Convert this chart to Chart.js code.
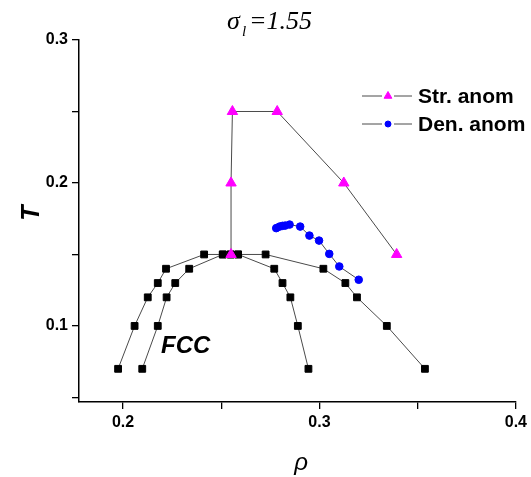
<!DOCTYPE html>
<html>
<head>
<meta charset="utf-8">
<script src="https://cdn.jsdelivr.net/npm/chart.js@4.4.0/dist/chart.umd.min.js"></script>
<style>
  html, body { margin: 0; padding: 0; background: #fff; }
  #wrap { width: 531px; height: 477px; position: relative; }
</style>
</head>
<body>
<div id="wrap"><canvas id="c" width="531" height="477"></canvas></div>
<script>
// ---- data ----
const strRho = [0.255, 0.255, 0.2557, 0.2785, 0.3124, 0.3393];
const strT   = [0.15, 0.20, 0.25, 0.25, 0.20, 0.15];

const denRho = [0.2780, 0.2797, 0.2812, 0.2826, 0.2848, 0.2902, 0.2949, 0.2998, 0.3050, 0.3101, 0.3200];
const denT   = [0.1684, 0.1695, 0.1700, 0.1702, 0.1709, 0.1695, 0.1632, 0.1597, 0.1504, 0.1416, 0.1323];

const outerRho = [0.1975, 0.2059, 0.2126, 0.2177, 0.2219, 0.2413, 0.2508, 0.2548, 0.2586, 0.2726, 0.302, 0.3132, 0.3191, 0.3343, 0.3537];
const outerT   = [0.07, 0.10, 0.12, 0.13, 0.14, 0.15, 0.15, 0.15, 0.15, 0.15, 0.14, 0.13, 0.12, 0.10, 0.07];

const innerRho = [0.2098, 0.2177, 0.2222, 0.2266, 0.2337, 0.2508, 0.2548, 0.2586, 0.277, 0.2812, 0.2852, 0.289, 0.2944];
const innerT   = [0.07, 0.10, 0.12, 0.13, 0.14, 0.15, 0.15, 0.15, 0.14, 0.13, 0.12, 0.10, 0.07];

const xTicks = [0.2, 0.25, 0.3, 0.35, 0.4];
const xLabels = ['0.2', '', '0.3', '', '0.4'];
const yTicks = [0.05, 0.1, 0.15, 0.2, 0.25, 0.3];
const yLabels = ['', '0.1', '', '0.2', '', '0.3'];

const legendNames = ['Str. anom', 'Den. anom'];
const titleParts = ['σ', 'l', '=1.55'];
const xTitle = 'ρ';
const yTitle = 'T';
const phaseLabel = 'FCC';

const pts = (xs, ys) => xs.map((x, i) => ({ x: x, y: ys[i] }));

const LINE = '#4a4a4a';
const MAG = '#ff00ff';
const BLUE = '#0000ff';

const overlay = {
  id: 'overlay',
  afterDraw(chart) {
    const ctx = chart.ctx;
    ctx.save();
    ctx.fillStyle = '#000';
    // title
    ctx.textAlign = 'left';
    ctx.textBaseline = 'alphabetic';
    ctx.font = 'italic 26px "Liberation Serif"';
    ctx.fillText(titleParts[0], 227, 29);
    ctx.font = 'italic 15px "Liberation Serif"';
    ctx.fillText(titleParts[1], 242, 36);
    ctx.font = 'italic 26px "Liberation Serif"';
    ctx.fillText(titleParts[2], 249, 29);

    // y title
    ctx.save();
    ctx.translate(32, 213);
    ctx.rotate(-Math.PI / 2);
    ctx.textAlign = 'center';
    ctx.textBaseline = 'middle';
    ctx.font = 'bold italic 25px "Liberation Sans"';
    ctx.fillText(yTitle, 0, 0);
    ctx.restore();

    // x title
    ctx.textAlign = 'center';
    ctx.textBaseline = 'alphabetic';
    ctx.font = 'italic 24px "Liberation Sans"';
    ctx.fillText(xTitle, 301, 470);

    // FCC
    ctx.textAlign = 'left';
    ctx.font = 'bold italic 24px "Liberation Sans"';
    ctx.fillText(phaseLabel, 161, 353);

    // legend
    const rows = [
      { y: 96, style: 'triangle', color: MAG, r: 4.5 },
      { y: 124, style: 'circle', color: BLUE, r: 3 }
    ];
    rows.forEach((row, i) => {
      ctx.strokeStyle = LINE;
      ctx.lineWidth = 1;
      ctx.beginPath();
      ctx.moveTo(362, row.y); ctx.lineTo(382, row.y);
      ctx.moveTo(394, row.y); ctx.lineTo(412, row.y);
      ctx.stroke();
      ctx.fillStyle = row.color;
      ctx.strokeStyle = row.color;
      Chart.helpers.drawPoint(ctx, { pointStyle: row.style, radius: row.r, rotation: 0, borderWidth: 1 }, 388, row.y);
      ctx.fillStyle = '#000';
      ctx.textBaseline = 'middle';
      ctx.font = 'bold 21px "Liberation Sans"';
      ctx.fillText(legendNames[i], 418, row.y + 1);
    });
    ctx.restore();
  }
};

new Chart(document.getElementById('c'), {
  type: 'scatter',
  data: {
    datasets: [
      {
        label: legendNames[0],
        data: pts(strRho, strT),
        showLine: true,
        borderColor: LINE, borderWidth: 1,
        pointStyle: 'triangle', pointRadius: 6, pointHoverRadius: 6,
        pointBackgroundColor: MAG, pointBorderColor: MAG, pointBorderWidth: 1
      },
      {
        label: legendNames[1],
        data: pts(denRho, denT),
        showLine: true,
        borderColor: LINE, borderWidth: 1,
        pointStyle: 'circle', pointRadius: 3.8, pointHoverRadius: 3.8,
        pointBackgroundColor: BLUE, pointBorderColor: BLUE, pointBorderWidth: 1
      },
      {
        label: 'outer',
        data: pts(outerRho, outerT),
        showLine: true,
        borderColor: LINE, borderWidth: 1,
        pointStyle: 'rect', pointRadius: 4.8, pointHoverRadius: 4.8,
        pointBackgroundColor: '#000', pointBorderColor: '#000', pointBorderWidth: 1
      },
      {
        label: 'inner',
        data: pts(innerRho, innerT),
        showLine: true,
        borderColor: LINE, borderWidth: 1,
        pointStyle: 'rect', pointRadius: 4.8, pointHoverRadius: 4.8,
        pointBackgroundColor: '#000', pointBorderColor: '#000', pointBorderWidth: 1
      }
    ]
  },
  options: {
    responsive: false,
    animation: false,
    events: [],
    layout: { padding: { left: 0, right: 12, top: 40, bottom: 0 } },
    plugins: { legend: { display: false }, tooltip: { enabled: false }, title: { display: false } },
    scales: {
      x: {
        type: 'linear',
        min: 0.1776, max: 0.4,
        afterBuildTicks(scale) { scale.ticks = xTicks.map(v => ({ value: v })); },
        afterFit(scale) { scale.height = 75; },
        ticks: {
          callback(v, i) { return xLabels[i]; },
          color: '#000',
          font: { family: 'Liberation Sans', size: 16, weight: 'bold' },
          padding: 4,
          maxRotation: 0, autoSkip: false
        },
        grid: { drawOnChartArea: false, drawTicks: true, tickLength: 7, color: '#000', lineWidth: 1.3 },
        border: { display: true, color: '#000', width: 1.5 }
      },
      y: {
        type: 'linear',
        min: 0.0468, max: 0.3,
        afterBuildTicks(scale) { scale.ticks = yTicks.map(v => ({ value: v })); },
        afterFit(scale) { scale.width = 79; },
        ticks: {
          callback(v, i) { return yLabels[i]; },
          color: '#000',
          font: { family: 'Liberation Sans', size: 16, weight: 'bold' },
          padding: 4,
          autoSkip: false
        },
        grid: { drawOnChartArea: false, drawTicks: true, tickLength: 7, color: '#000', lineWidth: 1.3 },
        border: { display: true, color: '#000', width: 1.5 }
      }
    }
  },
  plugins: [overlay]
});
</script>
</body>
</html>
